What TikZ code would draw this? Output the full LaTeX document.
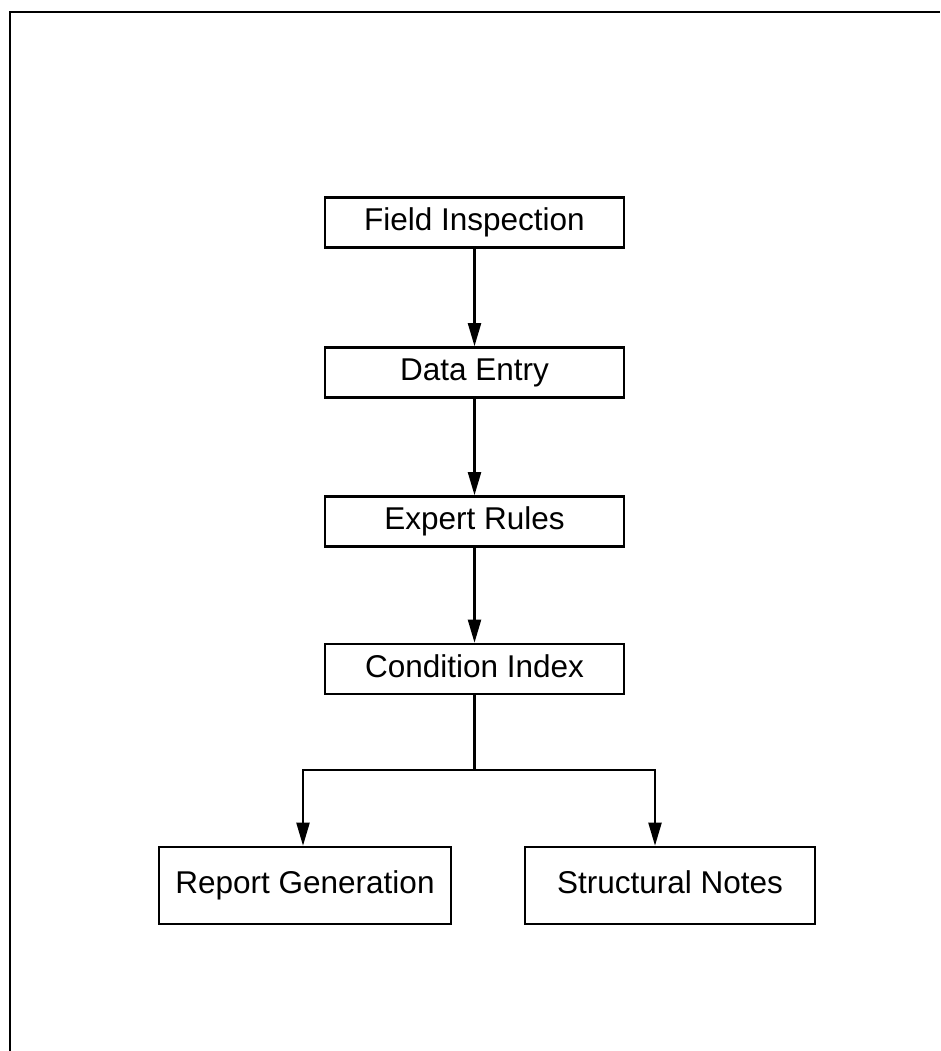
\documentclass[tikz,border=0pt]{standalone}
\usepackage{fontspec}
\setmainfont{Liberation Sans}
\usetikzlibrary{arrows.meta}
\begin{document}
\begin{tikzpicture}[x=1pt,y=-1pt,
  stepbox/.style={draw, line width=2.6pt, minimum height=50pt, inner sep=0pt,
    text height=22pt, text depth=6pt,
    font=\fontsize{31.5}{36}\selectfont},
  flow/.style={line width=2.1pt, -{Triangle[length=23pt,width=13pt]}},
  link/.style={line width=2.1pt}]
  \useasboundingbox (0,0) rectangle (940,1051);
  % outer frame, open to the right and bottom
  \draw[line width=2.8pt] (10,1051) -- (10,12) -- (940,12);

  \node[stepbox, minimum width=299pt] (fi) at (474.5,222.5) {Field Inspection};
  \node[stepbox, minimum width=299pt] (de) at (474.5,372.5) {Data Entry};
  \node[stepbox, minimum width=299pt] (er) at (474.5,521.5) {Expert Rules};
  \node[stepbox, minimum width=299pt] (ci) at (474.5,669) {Condition Index};
  \node[stepbox, minimum width=292pt, minimum height=77pt] (rg) at (305,885.5) {Report Generation};
  \node[stepbox, minimum width=290pt, minimum height=77pt] (sn) at (670,885.5) {Structural Notes};

  \coordinate (split) at (474.5,770);
  \draw[flow] (fi.south) -- (de.north);
  \draw[flow] (de.south) -- (er.north);
  \draw[flow] (er.south) -- (ci.north);
  \draw[link] (ci.south) -- (split);
  \draw[flow] (split) -| ([xshift=-2pt]rg.north);
  \draw[flow] (split) -| ([xshift=-15pt]sn.north);
\end{tikzpicture}
\end{document}
